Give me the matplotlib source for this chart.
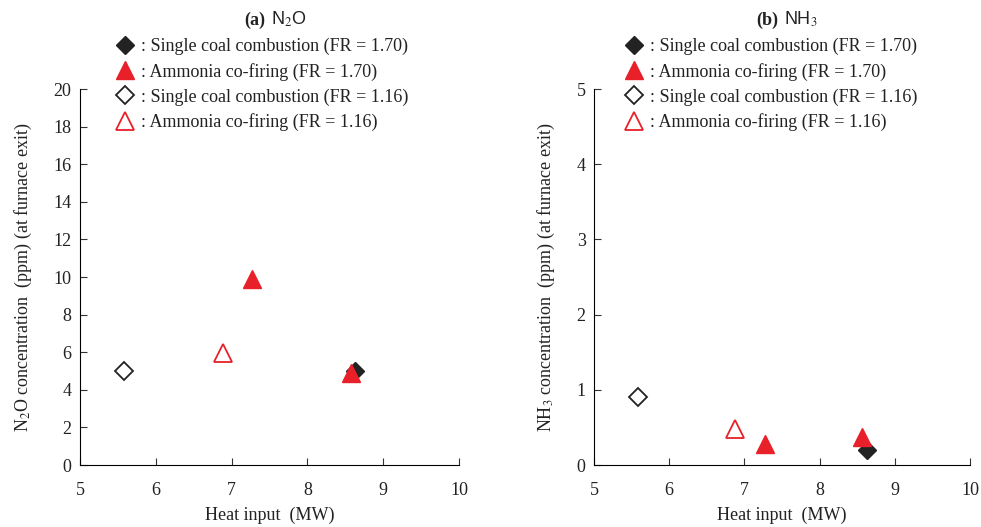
import matplotlib
matplotlib.use("Agg")
import matplotlib.pyplot as plt
from matplotlib.lines import Line2D

plt.rcParams['font.family'] = ['Liberation Serif', 'DejaVu Serif']
plt.rcParams['mathtext.fontset'] = 'stix'

# heat input (MW) and concentrations (ppm)
coal_170_x = [8.63]
coal_170_n2o = [5.0]
coal_170_nh3 = [0.20]

nh3_170_x = [7.27, 8.57]
nh3_170_n2o = [9.9, 4.9]
nh3_170_nh3 = [0.28, 0.37]

coal_116_x = [5.58]
coal_116_n2o = [5.0]
coal_116_nh3 = [0.90]

nh3_116_x = [6.88]
nh3_116_n2o = [5.95]
nh3_116_nh3 = [0.48]

labels = [': Single coal combustion (FR = 1.70)',
          ': Ammonia co-firing (FR = 1.70)',
          ': Single coal combustion (FR = 1.16)',
          ': Ammonia co-firing (FR = 1.16)']

red = '#e8202a'
blk = '#222222'

fig = plt.figure(figsize=(9.81, 5.27), dpi=100)
ax1 = fig.add_axes([0.0815, 0.1176, 0.3865, 0.7135])
ax2 = fig.add_axes([0.6055, 0.1176, 0.3833, 0.7135])


def draw(ax, y_c170, y_n170, y_c116, y_n116, leg_x):
    ax.plot(coal_116_x, y_c116, 'D', ms=9, mfc='white', mec=blk, mew=1.3, ls='none')
    ax.plot(nh3_116_x, y_n116, '^', ms=13, mfc='white', mec=red, mew=1.3, ls='none')
    ax.plot(coal_170_x, y_c170, 'D', ms=9, mfc=blk, mec=blk, ls='none')
    ax.plot(nh3_170_x, y_n170, '^', ms=13, mfc=red, mec=red, ls='none')
    ax.set_xlim(5, 10)
    ax.set_xticks([5, 6, 7, 8, 9, 10])
    ax.spines['top'].set_visible(False)
    ax.spines['right'].set_visible(False)
    ax.tick_params(direction='in', labelsize=13, length=5, color='#333333', labelcolor='#222222')
    ax.tick_params(axis='x', pad=12)
    ax.tick_params(axis='y', pad=6)
    ax.set_xlabel('Heat input  (MW)', fontsize=13, color='#222222', labelpad=6)

    handles = [Line2D([], [], marker='D', ms=9, mfc=blk, mec=blk, ls='none'),
               Line2D([], [], marker='^', ms=13, mfc=red, mec=red, ls='none'),
               Line2D([], [], marker='D', ms=9, mfc='white', mec=blk, mew=1.3, ls='none'),
               Line2D([], [], marker='^', ms=13, mfc='white', mec=red, mew=1.3, ls='none')]
    ax.legend(handles, labels, loc='upper left', bbox_to_anchor=(leg_x, 1.155),
              frameon=False, handletextpad=0.1, labelspacing=0.42, borderaxespad=0,
              handlelength=1.5, fontsize=13, labelcolor='#222222')


draw(ax1, coal_170_n2o, nh3_170_n2o, coal_116_n2o, nh3_116_n2o, 0.065)
ax1.set_ylim(0, 20)
ax1.set_yticks(range(0, 21, 2))
ax1.set_ylabel('N$_2$O concentration  (ppm) (at furnace exit)', fontsize=13,
               color='#222222', labelpad=14)

draw(ax2, coal_170_nh3, nh3_170_nh3, coal_116_nh3, nh3_116_nh3, 0.052)
ax2.set_ylim(0, 5)
ax2.set_yticks(range(0, 6))
ax2.set_ylabel('NH$_3$ concentration  (ppm) (at furnace exit)', fontsize=13,
               color='#222222', labelpad=14)

# panel titles
for ax, tag, name in [(ax1, '(a)', 'N$_2$O'), (ax2, '(b)', 'NH$_3$')]:
    ax.text(0.49, 1.16, tag, transform=ax.transAxes, ha='right', va='bottom',
            fontsize=13, fontweight='bold', color='#222222')
    ax.text(0.505, 1.16, name, transform=ax.transAxes, ha='left', va='bottom',
            fontsize=13, family='Liberation Sans', color='#222222')

plt.savefig('out.png', dpi=100)
